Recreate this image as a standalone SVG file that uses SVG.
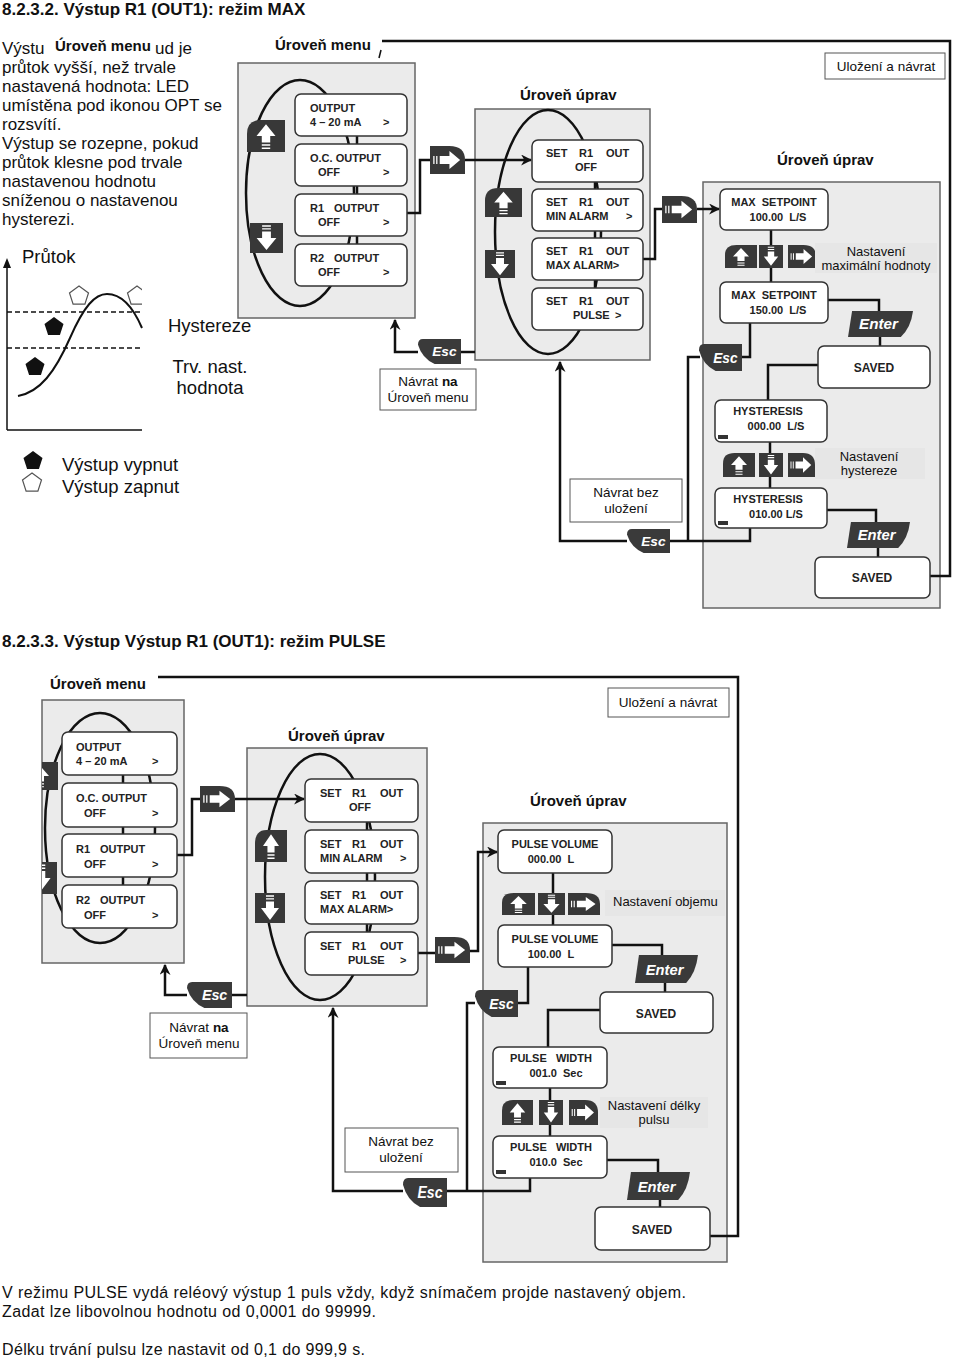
<svg xmlns="http://www.w3.org/2000/svg" xmlns:xlink="http://www.w3.org/1999/xlink" width="960" height="1361" viewBox="0 0 960 1361">
<style>
text{font-family:"Liberation Sans",Arial,sans-serif;fill:#111}
.h{font-size:17px;font-weight:bold}
.p{font-size:17px}
.lbl{font-size:15px;font-weight:bold}
.note{font-size:13.5px;text-anchor:middle}
.st{font-size:11px;font-weight:bold;fill:#222}
.stc{font-size:11px;font-weight:bold;fill:#222;text-anchor:middle}
.sv{font-size:12px;font-weight:bold;fill:#222;text-anchor:middle}
.panel{fill:#ebebeb;stroke:#666;stroke-width:1.5}
.scr{fill:#fff;stroke:#333;stroke-width:1.5}
.nb{fill:#fff;stroke:#555;stroke-width:1}
.gb{fill:#e6e6e6}
.loop{fill:none;stroke:#111;stroke-width:2.5}
.ln{fill:none;stroke:#111;stroke-width:2.5}
.thin{fill:none;stroke:#111;stroke-width:1.5}
.dash{fill:none;stroke:#111;stroke-width:1.5;stroke-dasharray:5 3}
.tag{fill:#333}
</style>
<defs>
<marker id="ah" viewBox="0 0 10 10" refX="9" refY="5" markerWidth="11" markerHeight="11" markerUnits="userSpaceOnUse" orient="auto"><path d="M0,0 L10,5 L0,10 L3,5 Z" fill="#111"/></marker>
<symbol id="bUp" viewBox="0 0 36 30" preserveAspectRatio="none"><path d="M0,30 V13 Q0,0 13,0 H36 V30 Z" fill="#383838"/><path d="M18,4 L27,15 H22 V21 H14 V15 H9 Z" fill="#fff"/><path d="M14,23.5 H22 M14,26.5 H22" stroke="#fff" stroke-width="1.3"/></symbol>
<symbol id="bDown" viewBox="0 0 30 30" preserveAspectRatio="none"><rect width="30" height="30" fill="#383838"/><path d="M11,3 H19 M11,5.8 H19" stroke="#fff" stroke-width="1.3"/><path d="M11,8.5 H19 V15 H24 L15,27 L6,15 H11 Z" fill="#fff"/></symbol>
<symbol id="bRight" viewBox="0 0 36 28" preserveAspectRatio="none"><path d="M0,0 H20 Q36,0 36,14 V28 H0 Z" fill="#383838"/><path d="M10,10 H20 V5 L31,14 L20,23 V18 H10 Z" fill="#fff"/><path d="M4,10 V18 M7,10 V18" stroke="#fff" stroke-width="1.3"/></symbol>
<symbol id="bEsc" viewBox="0 0 44 26" preserveAspectRatio="none"><path d="M5,0 H44 V26 H17 Q4,20 0,6 Q0,0 5,0 Z" fill="#3a3a3a"/><text x="27" y="18" text-anchor="middle" style="font-size:14px;font-style:italic;font-weight:bold;fill:#fff">Esc</text></symbol>
<symbol id="bEnter" viewBox="0 0 64 27" preserveAspectRatio="none"><path d="M4,0 H64 Q62,17 52,27 H0 Z" fill="#3a3a3a"/><text x="30" y="19" text-anchor="middle" style="font-size:15px;font-style:italic;font-weight:bold;fill:#fff">Enter</text></symbol>
<polygon id="pent" points="0,-10 9.5,-3.1 5.9,8.1 -5.9,8.1 -9.5,-3.1"/>
<clipPath id="clipM2"><rect x="42" y="700" width="142" height="263"/></clipPath>
</defs>
<rect width="960" height="1361" fill="#fff"/>

<!-- ===== TOP SECTION ===== -->
<g id="title1"><text class="h" x="2" y="15">8.2.3.2. Výstup R1 (OUT1): režim MAX</text></g>
<g id="para1">
<text class="p" x="2" y="54">Výstu</text>
<text class="p" x="155" y="54">ud je</text>
<text class="p" x="2" y="73">průtok vyšší, než trvale</text>
<text class="p" x="2" y="92">nastavená hodnota: LED</text>
<text class="p" x="2" y="111">umístěna pod ikonou OPT se</text>
<text class="p" x="2" y="130">rozsvítí.</text>
<text class="p" x="2" y="149">Výstup se rozepne, pokud</text>
<text class="p" x="2" y="168">průtok klesne pod trvale</text>
<text class="p" x="2" y="187">nastavenou hodnotu</text>
<text class="p" x="2" y="206">sníženou o nastavenou</text>
<text class="p" x="2" y="225">hysterezi.</text>
<rect x="50" y="37" width="103" height="20" fill="#fff"/>
<text class="lbl" x="55" y="51">Úroveň menu</text>
</g>

<g id="chart">
<text class="p" x="22" y="263" style="font-size:18.5px">Průtok</text>
<path class="thin" d="M7,430 V266 M7,430 H142"/>
<path d="M3,268 L7,258 L11,268 Z" fill="#111"/>
<path class="dash" d="M7,312 H142 M7,348 H142"/>
<path class="thin" d="M18,396 C40,392 55,372 70,338 C84,306 95,294 107,294 C121,294 133,307 142,328" style="stroke-width:2"/>
<use href="#pent" x="54" y="327" fill="#111"/>
<use href="#pent" x="35" y="367" fill="#111"/>
<use href="#pent" x="79" y="296" fill="#fff" stroke="#555" stroke-width="1.2"/>
<use href="#pent" x="137" y="296" fill="#fff" stroke="#555" stroke-width="1.2"/>
<rect x="142" y="280" width="8" height="30" fill="#fff"/>
<text class="p" x="168" y="332" style="font-size:18.5px">Hystereze</text>
<text class="p" x="210" y="373" style="font-size:18.5px;text-anchor:middle">Trv. nast.</text>
<text class="p" x="210" y="394" style="font-size:18.5px;text-anchor:middle">hodnota</text>
<use href="#pent" x="33" y="461" fill="#111"/>
<use href="#pent" x="32" y="483" fill="#fff" stroke="#555" stroke-width="1.2"/>
<text class="p" x="62" y="471" style="font-size:18.5px">Výstup vypnut</text>
<text class="p" x="62" y="493" style="font-size:18.5px">Výstup zapnut</text>
</g>

<g id="menu1">
<rect class="panel" x="238" y="63" width="177" height="255"/>
<ellipse class="loop" cx="300" cy="193" rx="54" ry="113"/>
<text class="lbl" x="275" y="50">Úroveň menu</text>
</g>
<g id="edit1">
<rect class="panel" x="475" y="109" width="175" height="251"/>
<ellipse class="loop" cx="548" cy="232" rx="53" ry="122"/>
<text class="lbl" x="520" y="100">Úroveň úprav</text>
</g>
<g id="set1">
<rect class="panel" x="703" y="182" width="237" height="426"/>
<text class="lbl" x="777" y="165">Úroveň úprav</text>
</g>

<!-- ===== BOTTOM SECTION PANELS ===== -->
<g id="title2"><text class="h" x="2" y="647">8.2.3.3. Výstup Výstup R1 (OUT1): režim PULSE</text></g>
<g id="menu2">
<rect class="panel" x="42" y="700" width="142" height="263"/>
<ellipse class="loop" cx="100" cy="828" rx="55" ry="115" clip-path="url(#clipM2)"/>
<text class="lbl" x="50" y="689">Úroveň menu</text>
</g>
<g id="edit2">
<rect class="panel" x="247" y="748" width="180" height="258"/>
<ellipse class="loop" cx="320" cy="877" rx="55" ry="123"/>
<text class="lbl" x="288" y="741">Úroveň úprav</text>
</g>
<g id="set2">
<rect class="panel" x="483" y="823" width="244" height="439"/>
<text class="lbl" x="530" y="806">Úroveň úprav</text>
</g>

<!-- ===== CONNECTORS ===== -->
<g id="connectors">
<path class="ln" d="M357,136 V144 M357,186 V194 M357,236 V244"/>
<path class="ln" d="M595,182 V189 M595,231 V238 M595,280 V288"/>
<path class="ln" d="M407,213 H420 V160 H430"/>
<path class="ln" d="M465,160 H531" marker-end="url(#ah)"/>
<path class="ln" d="M643,259 H655 V209 H662"/>
<path class="ln" d="M697,209 H719" marker-end="url(#ah)"/>
<path class="ln" d="M771,230 V282"/>
<path class="ln" d="M828,300 H879 V312"/>
<path class="ln" d="M880,336 V346"/>
<path class="ln" d="M750,323 V357 H741"/>
<path class="ln" d="M818,365 H768 V400"/>
<path class="ln" d="M770,442 V488"/>
<path class="ln" d="M827,510 H876 V522"/>
<path class="ln" d="M878,547 V557"/>
<path class="ln" d="M930,576 H950 V41 H382"/>
<path class="thin" d="M381,50 L379,58"/>
<path class="ln" d="M750,528 V541 H670"/>
<path class="ln" d="M700,357 H688 V541"/>
<path class="ln" d="M627,541 H560 V362" marker-end="url(#ah)"/>
<path class="ln" d="M475,352 H461"/>
<path class="ln" d="M418,352 H395 V320" marker-end="url(#ah)"/>

<path class="ln" d="M123,775 V783 M123,827 V834 M123,877 V885"/>
<path class="ln" d="M367,822 V830 M367,873 V881 M367,924 V932"/>
<path class="ln" d="M177,855 H192 V799 H200"/>
<path class="ln" d="M235,799 H304" marker-end="url(#ah)"/>
<path class="ln" d="M418,953 H435"/>
<path class="ln" d="M470,951 H478 V852 H497" marker-end="url(#ah)"/>
<path class="ln" d="M553,873 V925"/>
<path class="ln" d="M612,945 H662 V955"/>
<path class="ln" d="M665,983 V992"/>
<path class="ln" d="M528,967 V1003 H518"/>
<path class="ln" d="M475,1003 H467 V1191"/>
<path class="ln" d="M600,1010 H548 V1047"/>
<path class="ln" d="M550,1088 V1136"/>
<path class="ln" d="M607,1160 H658 V1172"/>
<path class="ln" d="M660,1200 V1207"/>
<path class="ln" d="M710,1236 H738 V677 H158"/>
<path class="ln" d="M530,1178 V1191 H447"/>
<path class="ln" d="M403,1191 H333 V1008" marker-end="url(#ah)"/>
<path class="ln" d="M247,995 H232"/>
<path class="ln" d="M187,995 H165 V965" marker-end="url(#ah)"/>
</g>

<!-- ===== TOP NODES ===== -->
<g id="m1-output"><rect class="scr" x="295" y="94" width="112" height="42" rx="6"/><text class="st" x="310" y="112">OUTPUT</text><text class="st" x="310" y="126">4 – 20 mA</text><text class="st" x="383" y="126">&gt;</text></g>
<g id="m1-oc"><rect class="scr" x="295" y="144" width="112" height="42" rx="6"/><text class="st" x="310" y="162">O.C. OUTPUT</text><text class="st" x="318" y="176">OFF</text><text class="st" x="383" y="176">&gt;</text></g>
<g id="m1-r1"><rect class="scr" x="295" y="194" width="112" height="42" rx="6"/><text class="st" x="310" y="212">R1</text><text class="st" x="334" y="212">OUTPUT</text><text class="st" x="318" y="226">OFF</text><text class="st" x="383" y="226">&gt;</text></g>
<g id="m1-r2"><rect class="scr" x="295" y="244" width="112" height="42" rx="6"/><text class="st" x="310" y="262">R2</text><text class="st" x="334" y="262">OUTPUT</text><text class="st" x="318" y="276">OFF</text><text class="st" x="383" y="276">&gt;</text></g>
<g id="m1-up"><use href="#bUp" x="247" y="120" width="38" height="32"/></g>
<g id="m1-down"><use href="#bDown" x="250" y="223" width="33" height="30"/></g>
<g id="m1-right"><use href="#bRight" x="430" y="146" width="35" height="28"/></g>

<g id="e1-off"><rect class="scr" x="532" y="140" width="111" height="42" rx="6"/><text class="st" x="546" y="157">SET</text><text class="st" x="579" y="157">R1</text><text class="st" x="606" y="157">OUT</text><text class="stc" x="586" y="171">OFF</text></g>
<g id="e1-min"><rect class="scr" x="532" y="189" width="111" height="42" rx="6"/><text class="st" x="546" y="206">SET</text><text class="st" x="579" y="206">R1</text><text class="st" x="606" y="206">OUT</text><text class="st" x="546" y="220">MIN ALARM</text><text class="st" x="626" y="220">&gt;</text></g>
<g id="e1-max"><rect class="scr" x="532" y="238" width="111" height="42" rx="6"/><text class="st" x="546" y="255">SET</text><text class="st" x="579" y="255">R1</text><text class="st" x="606" y="255">OUT</text><text class="st" x="546" y="269">MAX ALARM&gt;</text></g>
<g id="e1-pulse"><rect class="scr" x="532" y="288" width="111" height="42" rx="6"/><text class="st" x="546" y="305">SET</text><text class="st" x="579" y="305">R1</text><text class="st" x="606" y="305">OUT</text><text class="st" x="573" y="319">PULSE</text><text class="st" x="615" y="319">&gt;</text></g>
<g id="e1-up"><use href="#bUp" x="485" y="188" width="37" height="29"/></g>
<g id="e1-down"><use href="#bDown" x="485" y="250" width="30" height="28"/></g>
<g id="e1-right"><use href="#bRight" x="662" y="196" width="35" height="27"/></g>
<g id="e1-esc"><use href="#bEsc" x="418" y="339" width="43" height="25"/></g>
<g id="note-back1"><rect class="nb" x="380" y="369" width="96" height="41"/><text class="note" x="428" y="386">Návrat <tspan font-weight="bold">na</tspan></text><text class="note" x="428" y="402">Úroveň menu</text></g>

<g id="s1-max100"><rect class="scr" x="720" y="189" width="108" height="41" rx="6"/><text class="stc" x="774" y="206" xml:space="preserve">MAX  SETPOINT</text><text class="stc" x="778" y="221" xml:space="preserve">100.00  L/S</text></g>
<g id="s1-btns1"><use href="#bUp" x="725" y="245" width="32" height="23"/><use href="#bDown" x="759" y="245" width="24" height="23"/><use href="#bRight" x="788" y="245" width="28" height="23"/></g>
<g id="s1-lbl1"><rect class="gb" x="815" y="243" width="122" height="30"/><text class="note" x="876" y="256" style="font-size:13px">Nastavení</text><text class="note" x="876" y="270" style="font-size:13px">maximální hodnoty</text></g>
<g id="s1-max150"><rect class="scr" x="720" y="282" width="108" height="41" rx="6"/><text class="stc" x="774" y="299" xml:space="preserve">MAX  SETPOINT</text><text class="stc" x="778" y="314" xml:space="preserve">150.00  L/S</text></g>
<g id="s1-enter1"><use href="#bEnter" x="848" y="311" width="65" height="26"/></g>
<g id="s1-esc1"><use href="#bEsc" x="699" y="344" width="43" height="27"/></g>
<g id="s1-saved1"><rect class="scr" x="818" y="346" width="112" height="42" rx="6"/><text class="sv" x="874" y="372">SAVED</text></g>
<g id="s1-hys0"><rect class="scr" x="715" y="400" width="112" height="42" rx="6"/><text class="stc" x="768" y="415">HYSTERESIS</text><text class="stc" x="776" y="430" xml:space="preserve">000.00  L/S</text><rect class="tag" x="718" y="435" width="10" height="4"/></g>
<g id="s1-btns2"><use href="#bUp" x="723" y="453" width="32" height="24"/><use href="#bDown" x="759" y="453" width="24" height="24"/><use href="#bRight" x="788" y="453" width="27" height="24"/></g>
<g id="s1-lbl2"><rect class="gb" x="815" y="448" width="110" height="31"/><text class="note" x="869" y="461" style="font-size:13px">Nastavení</text><text class="note" x="869" y="475" style="font-size:13px">hystereze</text></g>
<g id="s1-hys10"><rect class="scr" x="715" y="488" width="112" height="40" rx="6"/><text class="stc" x="768" y="503">HYSTERESIS</text><text class="stc" x="776" y="518">010.00 L/S</text><rect class="tag" x="718" y="521" width="10" height="4"/></g>
<g id="s1-enter2"><use href="#bEnter" x="847" y="522" width="63" height="26"/></g>
<g id="s1-saved2"><rect class="scr" x="815" y="557" width="115" height="41" rx="6"/><text class="sv" x="872" y="582">SAVED</text></g>
<g id="s1-esc2"><use href="#bEsc" x="627" y="529" width="43" height="24"/></g>
<g id="note-nosave1"><rect class="nb" x="570" y="479" width="112" height="43"/><text class="note" x="626" y="497">Návrat bez</text><text class="note" x="626" y="513">uložení</text></g>
<g id="note-save1"><rect class="nb" x="825" y="53" width="120" height="26"/><text class="note" x="886" y="71">Uložení a návrat</text></g>

<!-- ===== BOTTOM NODES ===== -->
<g id="m2-output"><rect class="scr" x="62" y="732" width="115" height="43" rx="6"/><text class="st" x="76" y="751">OUTPUT</text><text class="st" x="76" y="765">4 – 20 mA</text><text class="st" x="152" y="765">&gt;</text></g>
<g id="m2-oc"><rect class="scr" x="62" y="783" width="115" height="44" rx="6"/><text class="st" x="76" y="802">O.C. OUTPUT</text><text class="st" x="84" y="817">OFF</text><text class="st" x="152" y="817">&gt;</text></g>
<g id="m2-r1"><rect class="scr" x="62" y="834" width="115" height="43" rx="6"/><text class="st" x="76" y="853">R1</text><text class="st" x="100" y="853">OUTPUT</text><text class="st" x="84" y="868">OFF</text><text class="st" x="152" y="868">&gt;</text></g>
<g id="m2-r2"><rect class="scr" x="62" y="885" width="115" height="43" rx="6"/><text class="st" x="76" y="904">R2</text><text class="st" x="100" y="904">OUTPUT</text><text class="st" x="84" y="919">OFF</text><text class="st" x="152" y="919">&gt;</text></g>
<g id="m2-up" clip-path="url(#clipM2)"><use href="#bUp" x="22" y="762" width="36" height="28"/></g>
<g id="m2-down" clip-path="url(#clipM2)"><use href="#bDown" x="25" y="862" width="32" height="32"/></g>
<g id="m2-right"><use href="#bRight" x="200" y="786" width="35" height="26"/></g>

<g id="e2-off"><rect class="scr" x="305" y="779" width="113" height="43" rx="6"/><text class="st" x="320" y="797">SET</text><text class="st" x="352" y="797">R1</text><text class="st" x="380" y="797">OUT</text><text class="stc" x="360" y="811">OFF</text></g>
<g id="e2-min"><rect class="scr" x="305" y="830" width="113" height="43" rx="6"/><text class="st" x="320" y="848">SET</text><text class="st" x="352" y="848">R1</text><text class="st" x="380" y="848">OUT</text><text class="st" x="320" y="862">MIN ALARM</text><text class="st" x="400" y="862">&gt;</text></g>
<g id="e2-max"><rect class="scr" x="305" y="881" width="113" height="43" rx="6"/><text class="st" x="320" y="899">SET</text><text class="st" x="352" y="899">R1</text><text class="st" x="380" y="899">OUT</text><text class="st" x="320" y="913">MAX ALARM&gt;</text></g>
<g id="e2-pulse"><rect class="scr" x="305" y="932" width="113" height="43" rx="6"/><text class="st" x="320" y="950">SET</text><text class="st" x="352" y="950">R1</text><text class="st" x="380" y="950">OUT</text><text class="st" x="348" y="964">PULSE</text><text class="st" x="400" y="964">&gt;</text></g>
<g id="e2-up"><use href="#bUp" x="255" y="830" width="32" height="32"/></g>
<g id="e2-down"><use href="#bDown" x="255" y="893" width="30" height="30"/></g>
<g id="e2-right"><use href="#bRight" x="435" y="937" width="35" height="26"/></g>
<g id="e2-esc"><use href="#bEsc" x="187" y="982" width="45" height="26"/></g>
<g id="note-back2"><rect class="nb" x="150" y="1013" width="97" height="45"/><text class="note" x="199" y="1032">Návrat <tspan font-weight="bold">na</tspan></text><text class="note" x="199" y="1048">Úroveň menu</text></g>

<g id="s2-vol0"><rect class="scr" x="498" y="830" width="114" height="43" rx="6"/><text class="stc" x="555" y="848">PULSE VOLUME</text><text class="stc" x="551" y="863" xml:space="preserve">000.00  L</text></g>
<g id="s2-btns1"><use href="#bUp" x="502" y="893" width="33" height="22"/><use href="#bDown" x="538" y="893" width="27" height="22"/><use href="#bRight" x="568" y="893" width="32" height="22"/></g>
<g id="s2-lbl1"><rect class="gb" x="605" y="890" width="120" height="26"/><text class="note" x="613" y="906" style="font-size:13px;text-anchor:start">Nastavení objemu</text></g>
<g id="s2-vol100"><rect class="scr" x="498" y="925" width="114" height="42" rx="6"/><text class="stc" x="555" y="943">PULSE VOLUME</text><text class="stc" x="551" y="958" xml:space="preserve">100.00  L</text></g>
<g id="s2-enter1"><use href="#bEnter" x="635" y="955" width="63" height="28"/></g>
<g id="s2-esc1"><use href="#bEsc" x="475" y="990" width="43" height="27"/></g>
<g id="s2-saved1"><rect class="scr" x="600" y="992" width="113" height="41" rx="6"/><text class="sv" x="656" y="1018">SAVED</text></g>
<g id="s2-pw1"><rect class="scr" x="493" y="1047" width="114" height="41" rx="6"/><text class="stc" x="551" y="1062" xml:space="preserve">PULSE   WIDTH</text><text class="stc" x="556" y="1077" xml:space="preserve">001.0  Sec</text><rect class="tag" x="496" y="1081" width="10" height="4"/></g>
<g id="s2-btns2"><use href="#bUp" x="502" y="1100" width="31" height="25"/><use href="#bDown" x="539" y="1100" width="24" height="25"/><use href="#bRight" x="569" y="1100" width="29" height="25"/></g>
<g id="s2-lbl2"><rect class="gb" x="600" y="1097" width="108" height="31"/><text class="note" x="654" y="1110" style="font-size:13px">Nastavení délky</text><text class="note" x="654" y="1124" style="font-size:13px">pulsu</text></g>
<g id="s2-pw10"><rect class="scr" x="493" y="1136" width="114" height="42" rx="6"/><text class="stc" x="551" y="1151" xml:space="preserve">PULSE   WIDTH</text><text class="stc" x="556" y="1166" xml:space="preserve">010.0  Sec</text><rect class="tag" x="496" y="1170" width="10" height="4"/></g>
<g id="s2-enter2"><use href="#bEnter" x="627" y="1172" width="63" height="28"/></g>
<g id="s2-saved2"><rect class="scr" x="595" y="1207" width="115" height="43" rx="6"/><text class="sv" x="652" y="1234">SAVED</text></g>
<g id="s2-esc2"><use href="#bEsc" x="403" y="1178" width="44" height="29"/></g>
<g id="note-nosave2"><rect class="nb" x="345" y="1128" width="113" height="44"/><text class="note" x="401" y="1146">Návrat bez</text><text class="note" x="401" y="1162">uložení</text></g>
<g id="note-save2"><rect class="nb" x="608" y="688" width="121" height="29"/><text class="note" x="668" y="707">Uložení a návrat</text></g>

<g id="footer">
<text class="p" x="2" y="1298" style="font-size:16px" textLength="684">V režimu PULSE vydá reléový výstup 1 puls vždy, když snímačem projde nastavený objem.</text>
<text class="p" x="2" y="1317" style="font-size:16px" textLength="374">Zadat lze libovolnou hodnotu od 0,0001 do 99999.</text>
<text class="p" x="2" y="1355" style="font-size:16px" textLength="363">Délku trvání pulsu lze nastavit od 0,1 do 999,9 s.</text>
</g>
</svg>
